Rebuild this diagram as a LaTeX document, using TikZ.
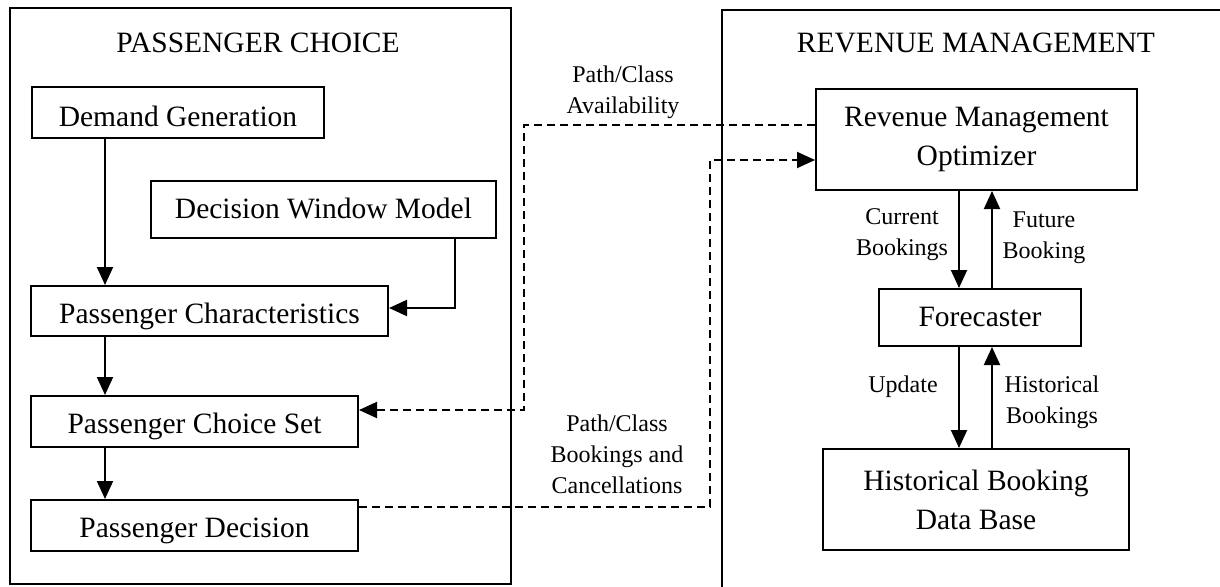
\documentclass[tikz,border=0pt]{standalone}
\usepackage{fontspec}
\setmainfont{Liberation Serif}
\usetikzlibrary{arrows.meta}
\newcommand{\boxfont}{\fontsize{29.5}{39}\selectfont}
\newcommand{\lblfont}{\fontsize{24}{31}\selectfont}
\begin{document}
\begin{tikzpicture}
  [x=1pt,y=-1pt,every node/.style={inner sep=0pt,align=center,font=\boxfont}]
  \tikzstyle{box} = [draw,line width=2pt]
  \tikzstyle{tx} = [text height=#1,text depth=0pt]
  \tikzstyle{lbl} = [font=\lblfont]
  \tikzstyle{arr} = [line width=2pt,-{Triangle[length=18pt,width=16pt]}]
  \tikzstyle{darr} = [arr,dash pattern=on 8pt off 5pt]
  \useasboundingbox (0,0) rectangle (1220,586);
  \clip (0,0) rectangle (1220,586);
  % the two frames
  \draw[line width=2pt] (10,8) rectangle (511,584);
  \draw[line width=2pt] (1240,10) -- (722,10) -- (722,600);
  \node (tpc) at (258,43) {PASSENGER CHOICE};
  \node (trm) at (976,43) {REVENUE MANAGEMENT};
  % passenger choice side
  \node[box,tx=27pt,minimum width=292,minimum height=51] (dem)   at (178,112.5) {Demand Generation};
  \node[box,tx=17pt,minimum width=345,minimum height=57] (dwm)   at (323.5,209.5) {Decision Window Model};
  \node[box,tx=24pt,minimum width=357,minimum height=50] (pchar) at (209.5,311) {Passenger Characteristics};
  \node[box,tx=23pt,minimum width=327,minimum height=51] (pset)  at (194.5,421.5) {Passenger Choice Set};
  \node[box,tx=23pt,minimum width=327,minimum height=51] (pdec)  at (194.5,525.5) {Passenger Decision};
  % revenue management side
  \node[box,minimum width=321,minimum height=101] (rmo)  at (976.5,139.5) {Revenue Management\\Optimizer};
  \node[box,tx=17pt,minimum width=202,minimum height=57]  (fore) at (980,317.5) {Forecaster};
  \node[box,minimum width=306,minimum height=101] (hbdb) at (976,499.5) {Historical Booking\\Data Base};
  % labels
  \node[lbl] (lav)  at (623,92)   {Path/Class\\Availability};
  \node[lbl] (lbk)  at (617,454)  {Path/Class\\Bookings and\\Cancellations};
  \node[lbl] (lcur) at (902,235)  {Current\\Bookings};
  \node[lbl] (lfut) at (1044,238) {Future\\Booking};
  \node[lbl] (lupd) at (903,387)  {Update};
  \node[lbl] (lhis) at (1052,402) {Historical\\Bookings};
  % connectors
  \coordinate (cx) at (105,0);
  \coordinate (dwx) at (455,308);
  \coordinate (av1) at (524,125);
  \coordinate (av2) at (524,410);
  \coordinate (bk1) at (710,507);
  \coordinate (bk2) at (710,160);
  \coordinate (dn) at (959,0);
  \coordinate (up) at (992,0);
  \foreach \source /\dest in {dem/pchar,pchar/pset,pset/pdec}
   \draw[arr] (cx |- \source.south) -- (cx |- \dest.north);
  \draw[arr] (dwx |- dwm.south) -- (dwx) -- (dwx -| pchar.east);
  \draw[darr] (av1 -| rmo.west) -- (av1) -- (av2) -- (av2 -| pset.east);
  \draw[darr] (bk1 -| pdec.east) -- (bk1) -- (bk2) -- (bk2 -| rmo.west);
  \foreach \source /\dest in {rmo/fore,fore/hbdb} {
   \draw[arr] (dn |- \source.south) -- (dn |- \dest.north);
   \draw[arr] (up |- \dest.north) -- (up |- \source.south);
  }
\end{tikzpicture}
\end{document}
